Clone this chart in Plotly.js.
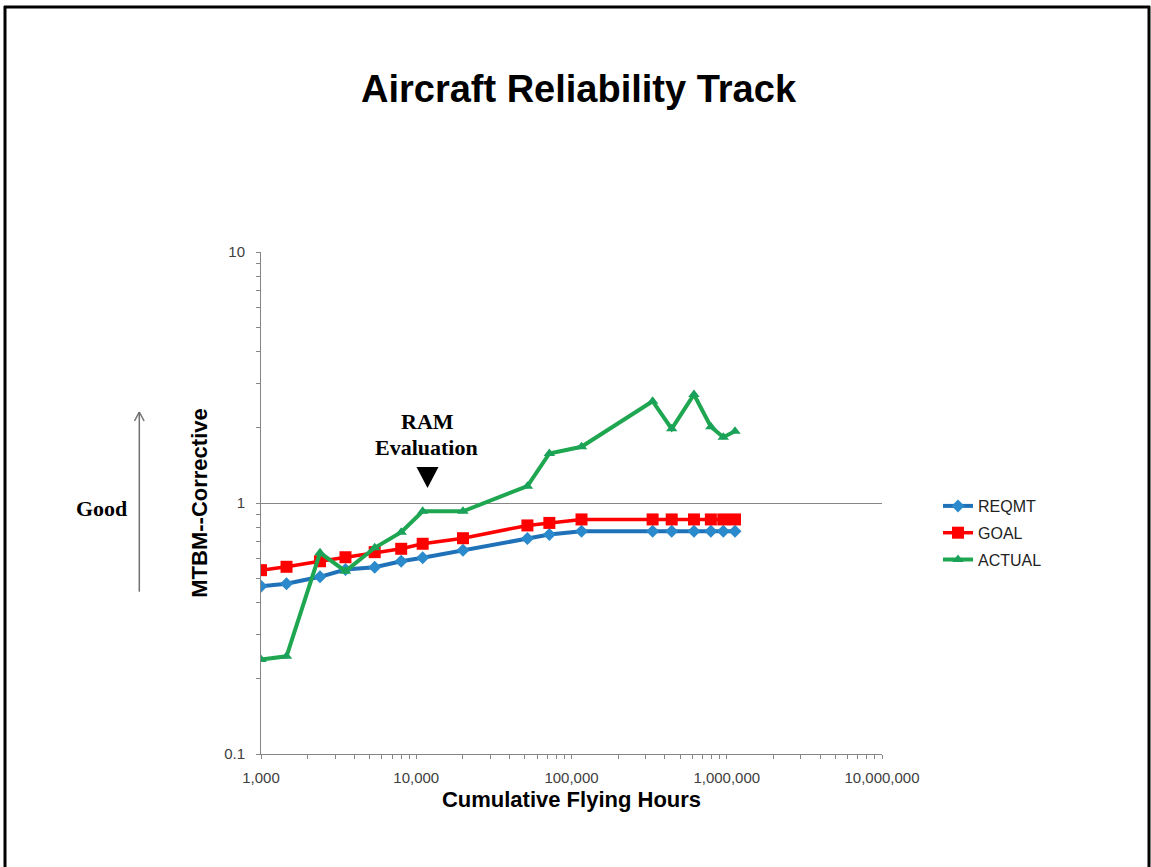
<!DOCTYPE html>
<html>
<head>
<meta charset="utf-8">
<script src="https://cdn.plot.ly/plotly-3.0.1.min.js"></script>
<style>
  html, body { margin: 0; padding: 0; background: #fff; }
  #chart { width: 1151px; height: 867px; }
</style>
</head>
<body>
<div id="chart"></div>
<script>
// ---- data ----
const hours = [1000, 1460, 2400, 3500, 5400, 8000, 11000, 20000, 52000, 72000, 116000, 333000, 442000, 615000, 790000, 950000, 1130000];
const reqmt = [0.466, 0.477, 0.508, 0.543, 0.555, 0.586, 0.605, 0.648, 0.722, 0.749, 0.772, 0.772, 0.772, 0.772, 0.772, 0.772, 0.772];
const goal = [0.540, 0.557, 0.586, 0.608, 0.637, 0.657, 0.688, 0.724, 0.814, 0.833, 0.860, 0.860, 0.860, 0.860, 0.860, 0.860, 0.860];
const actual = [0.238, 0.245, 0.633, 0.535, 0.663, 0.765, 0.927, 0.927, 1.167, 1.575, 1.675, 2.544, 1.975, 2.705, 2.012, 1.829, 1.932];
const seriesNames = ['REQMT', 'GOAL', 'ACTUAL'];
const chartTitle = 'Aircraft Reliability Track';
const xTitle = 'Cumulative Flying Hours';
const yTitle = 'MTBM--Corrective';

// ---- layout helpers (pixel -> paper) ----
const W = 1151, H = 867;
const M = { l: 261, r: 269, t: 252, b: 113 };
const PW = W - M.l - M.r, PH = H - M.t - M.b;
const px = x => (x - M.l) / PW;
const py = y => (H - M.b - y) / PH;

const axisGray = '#868686';
const tickFont = { family: 'Liberation Sans, Arial, sans-serif', size: 15, color: '#404040' };

const traces = [
  { x: hours, y: reqmt, name: seriesNames[0], legendgroup: 'a', mode: 'lines+markers',
    line: { color: '#1F72B8', width: 4 },
    marker: { symbol: 'diamond', size: 10, color: '#2A8ACB' } },
  { x: hours, y: goal, name: seriesNames[1], legendgroup: 'b', mode: 'lines+markers',
    line: { color: '#FF0000', width: 3.5 },
    marker: { symbol: 'square', size: 12, color: '#FF0000' } },
  { x: hours, y: actual, name: seriesNames[2], legendgroup: 'c', mode: 'lines+markers',
    line: { color: '#1EA650', width: 4 },
    marker: { symbol: 'triangle-up', size: 10, color: '#1AA15A' } }
];

const border = { type: 'line', xref: 'paper', yref: 'paper', line: { color: '#000', width: 3 } };
const arrowLine = { type: 'line', xref: 'paper', yref: 'paper', line: { color: '#707070', width: 1.5 } };

const layout = {
  width: W, height: H,
  margin: M,
  paper_bgcolor: '#fff', plot_bgcolor: '#fff',
  showlegend: true,
  hovermode: false,
  title: {
    text: '<b>' + chartTitle + '</b>',
    font: { family: 'Liberation Sans, Arial, sans-serif', size: 38, color: '#000' },
    xref: 'container', yref: 'container', x: 578.5 / W, y: 1 - 89 / H,
    xanchor: 'center', yanchor: 'middle'
  },
  xaxis: {
    type: 'log', range: [3, 7], dtick: 1, tickformat: ',d',
    showline: true, linecolor: axisGray, linewidth: 1,
    showgrid: false, zeroline: false,
    ticks: 'outside', ticklen: 4, tickcolor: axisGray,
    tickfont: tickFont, ticklabelstandoff: 6,
    minor: { dtick: 'D1', ticks: 'outside', ticklen: 4, tickcolor: axisGray, showgrid: false },
    title: { text: '<b>' + xTitle + '</b>', standoff: 6,
      font: { family: 'Liberation Sans, Arial, sans-serif', size: 22, color: '#000' } }
  },
  yaxis: {
    type: 'log', range: [-1, 1], dtick: 1,
    showline: true, linecolor: axisGray, linewidth: 1,
    showgrid: true, gridcolor: axisGray, gridwidth: 1, zeroline: false,
    ticks: 'outside', ticklen: 4, tickcolor: axisGray,
    tickfont: tickFont, ticklabelstandoff: 8,
    minor: { dtick: 'D1', ticks: 'outside', ticklen: 4, tickcolor: axisGray, showgrid: false },
    title: { text: '<b>' + yTitle + '</b>', standoff: 10,
      font: { family: 'Liberation Sans, Arial, sans-serif', size: 22, color: '#000' } }
  },
  legend: {
    x: px(938), y: py(533), xanchor: 'left', yanchor: 'middle',
    font: { family: 'Liberation Sans, Arial, sans-serif', size: 16, color: '#222' },
    traceorder: 'grouped', tracegroupgap: 3,
    bgcolor: 'rgba(0,0,0,0)', borderwidth: 0
  },
  annotations: [
    { text: '<b>RAM</b>', xref: 'paper', yref: 'paper', x: px(427), y: py(421), showarrow: false,
      xanchor: 'center', yanchor: 'middle',
      font: { family: 'Liberation Serif, Times New Roman, serif', size: 22, color: '#000' } },
    { text: '<b>Evaluation</b>', xref: 'paper', yref: 'paper', x: px(426), y: py(447), showarrow: false,
      xanchor: 'center', yanchor: 'middle',
      font: { family: 'Liberation Serif, Times New Roman, serif', size: 22, color: '#000' } },
    { text: '<b>Good</b>', xref: 'paper', yref: 'paper', x: px(101), y: py(508), showarrow: false,
      xanchor: 'center', yanchor: 'middle',
      font: { family: 'Liberation Serif, Times New Roman, serif', size: 22, color: '#000' } }
  ],
  shapes: [
    // RAM evaluation marker triangle
    { type: 'path', xref: 'paper', yref: 'paper',
      path: 'M ' + px(416.5) + ' ' + py(467) + ' L ' + px(438.5) + ' ' + py(467) + ' L ' + px(427.5) + ' ' + py(488) + ' Z',
      fillcolor: '#000', line: { color: '#000', width: 0 } },
    // "Good" arrow
    Object.assign({ x0: px(139.3), x1: px(139.3), y0: py(591.7), y1: py(412) }, arrowLine),
    Object.assign({ x0: px(139.3), x1: px(134.5), y0: py(412), y1: py(421) }, arrowLine),
    Object.assign({ x0: px(139.3), x1: px(144.1), y0: py(412), y1: py(421) }, arrowLine),
    // frame
    Object.assign({ x0: px(5), x1: px(5), y0: py(6), y1: py(867) }, border),
    Object.assign({ x0: px(4), x1: px(1150), y0: py(7), y1: py(7) }, border),
    Object.assign({ x0: px(1149), x1: px(1149), y0: py(6), y1: py(867) }, border)
  ]
};

Plotly.newPlot('chart', traces, layout, { displayModeBar: false, staticPlot: true });
</script>
</body>
</html>
